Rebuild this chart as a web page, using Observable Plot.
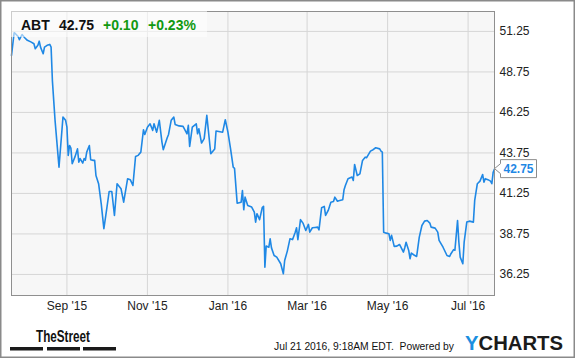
<!DOCTYPE html>
<html><head><meta charset="utf-8">
<script src="https://cdn.jsdelivr.net/npm/d3@7"></script>
<script src="https://cdn.jsdelivr.net/npm/@observablehq/plot@0.6"></script>
<style>
html,body{margin:0;padding:0;background:#fff;}
#wrap{position:relative;width:575px;height:358px;overflow:hidden;}
#wrap svg{display:block;}
</style>
</head><body>
<div id="wrap"></div>
<script>
const dates = [
"2015-07-21","2015-07-23","2015-07-24","2015-07-26","2015-07-27","2015-07-29","2015-07-31",
"2015-08-02","2015-08-05","2015-08-07","2015-08-08","2015-08-10","2015-08-11","2015-08-12","2015-08-14","2015-08-15","2015-08-17","2015-08-19","2015-08-20","2015-08-21","2015-08-23","2015-08-26","2015-08-29","2015-08-31",
"2015-09-01","2015-09-02","2015-09-03","2015-09-04","2015-09-05","2015-09-07","2015-09-09","2015-09-10","2015-09-11","2015-09-13","2015-09-14","2015-09-15","2015-09-16","2015-09-18","2015-09-19","2015-09-21","2015-09-22","2015-09-23","2015-09-25","2015-09-27","2015-09-29",
"2015-10-01","2015-10-03","2015-10-05","2015-10-07","2015-10-09","2015-10-12","2015-10-14","2015-10-17","2015-10-19","2015-10-21","2015-10-23","2015-10-25","2015-10-27","2015-10-29","2015-10-30",
"2015-11-01","2015-11-03","2015-11-05","2015-11-06","2015-11-08","2015-11-10","2015-11-12","2015-11-13","2015-11-16","2015-11-17","2015-11-19","2015-11-21","2015-11-22","2015-11-25","2015-11-28",
"2015-12-01","2015-12-02","2015-12-03","2015-12-05","2015-12-08","2015-12-09","2015-12-10","2015-12-12","2015-12-14","2015-12-16","2015-12-19","2015-12-22","2015-12-23","2015-12-28","2015-12-30",
"2016-01-01","2016-01-03","2016-01-05","2016-01-06","2016-01-08","2016-01-11","2016-01-12","2016-01-13","2016-01-14","2016-01-16","2016-01-19","2016-01-21","2016-01-22","2016-01-23","2016-01-25","2016-01-27","2016-01-28","2016-01-29","2016-01-30",
"2016-02-01","2016-02-02","2016-02-03","2016-02-05","2016-02-07","2016-02-10","2016-02-12","2016-02-13","2016-02-15","2016-02-17","2016-02-19","2016-02-21","2016-02-22","2016-02-23","2016-02-25","2016-02-27","2016-02-29",
"2016-03-02","2016-03-03","2016-03-05","2016-03-07","2016-03-09","2016-03-10","2016-03-12","2016-03-14","2016-03-15","2016-03-17","2016-03-19","2016-03-21","2016-03-22","2016-03-24","2016-03-25","2016-03-28","2016-03-29","2016-03-30",
"2016-04-01","2016-04-04","2016-04-05","2016-04-06","2016-04-08","2016-04-10","2016-04-12","2016-04-14","2016-04-15","2016-04-18","2016-04-20","2016-04-22","2016-04-25","2016-04-26","2016-04-27","2016-04-28","2016-04-30",
"2016-05-02","2016-05-03","2016-05-04","2016-05-06","2016-05-08","2016-05-10","2016-05-11","2016-05-13","2016-05-14","2016-05-15","2016-05-17","2016-05-18","2016-05-19","2016-05-21","2016-05-23","2016-05-25","2016-05-27","2016-05-29","2016-05-31",
"2016-06-02","2016-06-03","2016-06-06","2016-06-08","2016-06-09","2016-06-12","2016-06-15","2016-06-17","2016-06-18","2016-06-20","2016-06-21","2016-06-23","2016-06-24","2016-06-25","2016-06-27","2016-06-28","2016-06-30",
"2016-07-02","2016-07-05","2016-07-06","2016-07-08","2016-07-10","2016-07-12","2016-07-13","2016-07-14","2016-07-16","2016-07-18","2016-07-19","2016-07-20","2016-07-21"
];
const prices = [
49.77,51.17,51.11,50.94,50.74,51.06,50.86,
50.70,50.59,50.49,50.18,50.39,50.65,50.28,49.87,50.28,50.39,50.45,50.28,48.20,45.76,42.87,45.96,45.76,
45.34,43.60,44.21,44.05,43.08,43.49,44.00,43.18,43.40,43.12,43.40,43.30,43.80,44.21,43.33,43.29,43.30,42.36,41.85,40.61,39.07,
40.20,41.37,41.37,39.89,41.85,41.54,40.71,42.16,42.10,41.74,43.53,43.60,43.80,45.18,44.89,
45.34,45.55,45.14,45.55,45.03,45.76,44.42,43.95,44.69,44.89,45.76,45.96,45.51,45.42,45.39,
44.93,45.45,44.15,45.34,45.55,44.93,45.24,44.36,44.63,46.07,43.70,44.00,45.10,45.03,45.80,
45.03,44.00,42.87,42.80,40.65,40.71,41.43,40.24,41.02,40.51,40.41,40.10,39.48,40.00,39.63,40.37,40.45,36.70,38.00,
37.93,38.45,37.89,37.42,37.32,36.91,36.29,37.11,37.69,38.45,38.40,38.86,39.13,38.39,39.63,39.40,38.96,
39.34,38.86,39.13,39.15,39.17,39.00,40.37,40.45,39.89,40.20,40.71,40.75,41.02,40.77,40.80,40.86,41.48,41.74,
42.16,42.26,42.05,43.04,42.36,42.46,43.29,43.49,43.45,43.86,43.95,44.07,44.00,43.86,43.80,38.86,38.80,
38.76,38.35,38.66,37.98,38.00,38.10,37.95,37.63,37.90,38.24,37.73,37.22,37.57,37.45,37.36,38.55,39.27,39.54,39.58,
39.42,39.17,39.11,38.86,38.35,37.93,37.42,37.36,37.53,37.78,37.75,39.58,38.24,37.32,36.91,38.24,39.48,
39.54,39.48,40.82,41.85,42.01,42.42,41.95,42.16,42.10,42.01,41.85,42.56,42.75
];
const xTickDates = ["2015-09-01","2015-11-01","2016-01-01","2016-03-01","2016-05-01","2016-07-01"];
const xTickLabels = ["Sep '15","Nov '15","Jan '16","Mar '16","May '16","Jul '16"];
const yTicks = [36.25, 38.75, 41.25, 43.75, 46.25, 48.75, 51.25];
const ticker = "ABT";
const lastPrice = "42.75";
const change = "+0.10";
const changePct = "+0.23%";
const footerText = "Jul 21 2016, 9:18AM EDT.  Powered by";

const FONT = '"Liberation Sans", Arial, Helvetica, sans-serif';
const BLUE = "#1f88e5";
const data = dates.map((d, i) => ({date: new Date(d + "T00:00:00Z"), price: prices[i]}));
const xt = xTickDates.map(d => new Date(d + "T00:00:00Z"));
const labelOf = new Map(xt.map((d, i) => [+d, xTickLabels[i]]));
const last = data[data.length - 1];

function callout(index, scales) {
  const x = scales.x(last.date), y = scales.y(last.price);
  const g = d3.create("svg:g");
  g.append("path")
    .attr("d", `M${x + 0.5},${y} L${x + 6.5},${y - 5} V${y - 9} H${x + 42.5} V${y + 9} H${x + 6.5} V${y + 5} Z`)
    .attr("fill", "#fff").attr("stroke", "#8c8c8c").attr("stroke-width", 1);
  g.append("text")
    .attr("x", x + 24.5).attr("y", y + 4.5)
    .attr("text-anchor", "middle")
    .attr("font-family", FONT).attr("font-size", 12).attr("font-weight", "bold")
    .attr("fill", BLUE).text(lastPrice);
  return g.node();
}

const plot = Plot.plot({
  width: 575,
  height: 358,
  marginLeft: 11,
  marginRight: 81,
  marginTop: 11,
  marginBottom: 63,
  style: {fontFamily: FONT, fontSize: "12px", background: "#fff", color: "#222", overflow: "visible"},
  x: {type: "utc", domain: [data[0].date, last.date], label: null},
  y: {domain: [34.95, 52.48], label: null},
  marks: [
    Plot.frame({fill: "#f7f7f7", stroke: null}),
    Plot.gridX(xt, {stroke: "#d6d6d6", strokeOpacity: 1}),
    Plot.gridY(yTicks, {stroke: "#d6d6d6", strokeOpacity: 1}),
    Plot.line(data, {x: "date", y: "price", stroke: BLUE, strokeWidth: 1.6}),
    Plot.frame({stroke: "#8f8f8f"}),
    Plot.axisX(xt, {tickSize: 0, tickPadding: 6, tickFormat: d => labelOf.get(+d), fill: "#222", fontSize: 12}),
    Plot.axisY(yTicks, {anchor: "right", tickSize: 0, tickPadding: 5, tickFormat: d => d.toFixed(2), fill: "#222", fontSize: 12}),
    callout
  ]
});
document.getElementById("wrap").appendChild(plot);

const svg = d3.select(plot);
// header box (translucent, over the line)
svg.append("rect").attr("x", 11).attr("y", 11).attr("width", 196).attr("height", 26)
  .attr("fill", "#fff").attr("fill-opacity", 0.55);
const hdr = [
  {t: ticker, x: 21, c: "#111"},
  {t: lastPrice, x: 59, c: "#111"},
  {t: change, x: 103, c: "#119911"},
  {t: changePct, x: 148, c: "#119911"}
];
hdr.forEach(h => svg.append("text").attr("x", h.x).attr("y", 29.5)
  .attr("text-anchor", "start")
  .attr("font-family", FONT).attr("font-size", 14).attr("font-weight", "bold")
  .attr("fill", h.c).text(h.t));

// footer: TheStreet logo
svg.append("text").attr("x", 36).attr("y", 342).attr("text-anchor", "start")
  .attr("font-family", '"Liberation Sans Narrow", "Liberation Sans", Arial, sans-serif')
  .attr("font-size", 17).attr("font-weight", "bold").attr("fill", "#111")
  .attr("textLength", 54).attr("lengthAdjust", "spacingAndGlyphs").text("TheStreet");
[[10, 33], [47, 33], [83, 33]].forEach(([x, w]) =>
  svg.append("rect").attr("x", x).attr("y", 347).attr("width", w).attr("height", 3.5).attr("fill", "#1a1a1a"));

// footer text
svg.append("text").attr("x", 274).attr("y", 349.5).attr("text-anchor", "start")
  .attr("font-family", FONT).attr("font-size", 11).attr("fill", "#111")
  .attr("textLength", 180).attr("lengthAdjust", "spacingAndGlyphs")
  .attr("xml:space", "preserve").style("white-space", "pre").text(footerText);
const yc = svg.append("text").attr("x", 465).attr("y", 349.5).attr("text-anchor", "start")
  .attr("font-family", FONT).attr("font-size", 21).attr("font-weight", "bold")
  .attr("textLength", 98).attr("lengthAdjust", "spacingAndGlyphs");
yc.append("tspan").attr("fill", "#1a8fe0").text("Y");
yc.append("tspan").attr("fill", "#1b1b1b").text("CHARTS");

// outer border
svg.append("rect").attr("x", 0.75).attr("y", 0.75).attr("width", 573.5).attr("height", 356.5)
  .attr("fill", "none").attr("stroke", "#8a8a8a").attr("stroke-width", 1.5);
</script>
</body></html>
